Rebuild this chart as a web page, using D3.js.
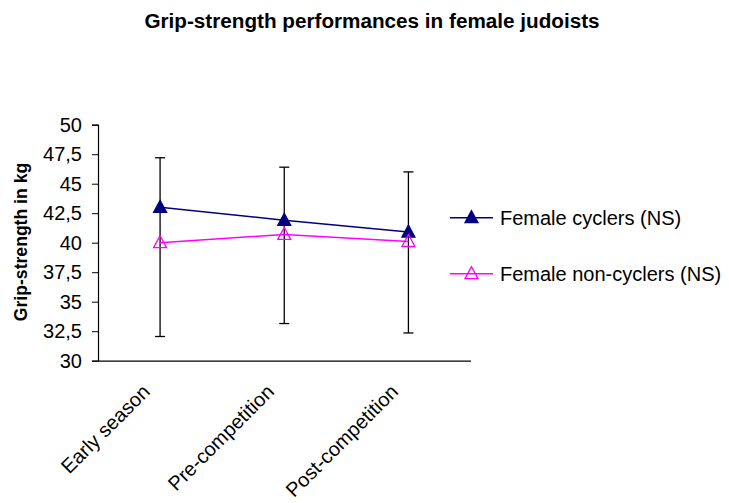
<!DOCTYPE html>
<html>
<head>
<meta charset="utf-8">
<script src="https://cdn.jsdelivr.net/npm/d3@7"></script>
<style>
  body { margin: 0; background: #fff; }
  text { font-family: "Liberation Sans", Arial, sans-serif; fill: #000; }
</style>
</head>
<body>
<div id="chart"></div>
<script>
// data
var categories = ['Early season', 'Pre-competition', 'Post-competition'];
var cyclers = [43.0, 41.9, 40.9];
var cyclersSD = [4.2, 4.5, 5.1];        // drawn upward
var nonCyclers = [40.0, 40.7, 40.1];
var nonCyclersSD = [7.95, 7.55, 7.75];  // drawn downward
var yTicks = [30, 32.5, 35, 37.5, 40, 42.5, 45, 47.5, 50];
var seriesNames = ['Female cyclers (NS)', 'Female non-cyclers (NS)'];

var width = 729, height = 503;
var plot = { left: 98, right: 470.5, top: 124.7, bottom: 360.7 };

var svg = d3.select('#chart').append('svg')
    .attr('width', width)
    .attr('height', height);

// scales
var x = d3.scaleBand()
  .domain(categories)
  .range([plot.left, plot.right])
  .padding(0);

var y = d3.scaleLinear()
  .domain([30, 50])
  .range([plot.bottom, plot.top]);

function cx(d) { return x(d) + x.bandwidth() / 2; }

// title
svg.append('text')
  .attr('x', 372)
  .attr('y', 28)
  .attr('text-anchor', 'middle')
  .style('font-size', '20.7px')
  .style('font-weight', 'bold')
  .text('Grip-strength performances in female judoists');

// y axis
var yAxis = d3.axisLeft(y)
  .tickValues(yTicks)
  .tickSize(6)
  .tickPadding(10)
  .tickFormat(function(d){ return String(d).replace('.', ','); });

var gy = svg.append('g')
  .attr('transform', 'translate(' + plot.left + ',0)')
  .call(yAxis);
gy.select('.domain').attr('stroke', '#000').attr('stroke-width', 1.2);
gy.selectAll('.tick line').attr('stroke', '#000');
gy.selectAll('.tick text')
  .style('font-size', '20px')
  .style('font-family', '"Liberation Sans", Arial, sans-serif');

svg.append('text')
  .attr('transform', 'translate(27,242) rotate(-90)')
  .attr('text-anchor', 'middle')
  .style('font-size', '17.6px')
  .style('font-weight', 'bold')
  .text('Grip-strength in kg');

// x axis
var xAxis = d3.axisBottom(x).tickSize(0).tickFormat('');
var gx = svg.append('g')
  .attr('transform', 'translate(0,' + plot.bottom + ')')
  .call(xAxis);
gx.select('.domain').attr('stroke', '#000').attr('stroke-width', 1.2);

svg.selectAll('.xlabel')
  .data(categories)
  .enter().append('text')
    .attr('class', 'xlabel')
    .attr('text-anchor', 'end')
    .attr('transform', function(d){ return 'translate(' + (cx(d) - 9) + ',393) rotate(-45)'; })
    .style('font-size', '20px')
    .text(function(d){ return d; });

// error bars
var errs = svg.append('g').attr('class', 'errors');
categories.forEach(function(c, i){
  var hi = y(cyclers[i] + cyclersSD[i]),
      lo = y(nonCyclers[i] - nonCyclersSD[i]),
      px = cx(c);
  errs.append('line')
    .attr('x1', px).attr('x2', px)
    .attr('y1', hi).attr('y2', lo)
    .attr('stroke', '#000').attr('stroke-width', 1.3);
  [hi, lo].forEach(function(v){
    errs.append('line')
      .attr('x1', px - 5).attr('x2', px + 5)
      .attr('y1', v).attr('y2', v)
      .attr('stroke', '#000').attr('stroke-width', 1.3);
  });
});

// series
var tri = 'M0,-7L6.5,5L-6.5,5Z';
var series = [
  { name: seriesNames[0], values: cyclers, color: '#000080', fill: '#000080' },
  { name: seriesNames[1], values: nonCyclers, color: '#FF00FF', fill: 'none' }
];

var line = d3.line()
  .x(function(d, i){ return cx(categories[i]); })
  .y(function(d){ return y(d); });

series.forEach(function(s){
  svg.append('path')
    .datum(s.values)
    .attr('d', line)
    .attr('fill', 'none')
    .attr('stroke', s.color)
    .attr('stroke-width', 1.5);

  svg.selectAll(null)
    .data(s.values)
    .enter().append('path')
      .attr('d', tri)
      .attr('transform', function(d, i){ return 'translate(' + cx(categories[i]) + ',' + y(d) + ')'; })
      .attr('fill', s.fill)
      .attr('stroke', s.color)
      .attr('stroke-width', 1.3);
});

// legend
var legend = svg.append('g').attr('class', 'legend');
series.forEach(function(s, i){
  var ly = 217.7 + i * 56;
  legend.append('line')
    .attr('x1', 450).attr('x2', 493)
    .attr('y1', ly).attr('y2', ly)
    .attr('stroke', s.color).attr('stroke-width', 1.5);
  legend.append('path')
    .attr('d', tri)
    .attr('transform', 'translate(471.5,' + ly + ')')
    .attr('fill', s.fill)
    .attr('stroke', s.color)
    .attr('stroke-width', 1.3);
  legend.append('text')
    .attr('x', 500)
    .attr('y', ly)
    .attr('dy', '0.35em')
    .style('font-size', '20px')
    .text(s.name);
});
</script>
</body>
</html>
